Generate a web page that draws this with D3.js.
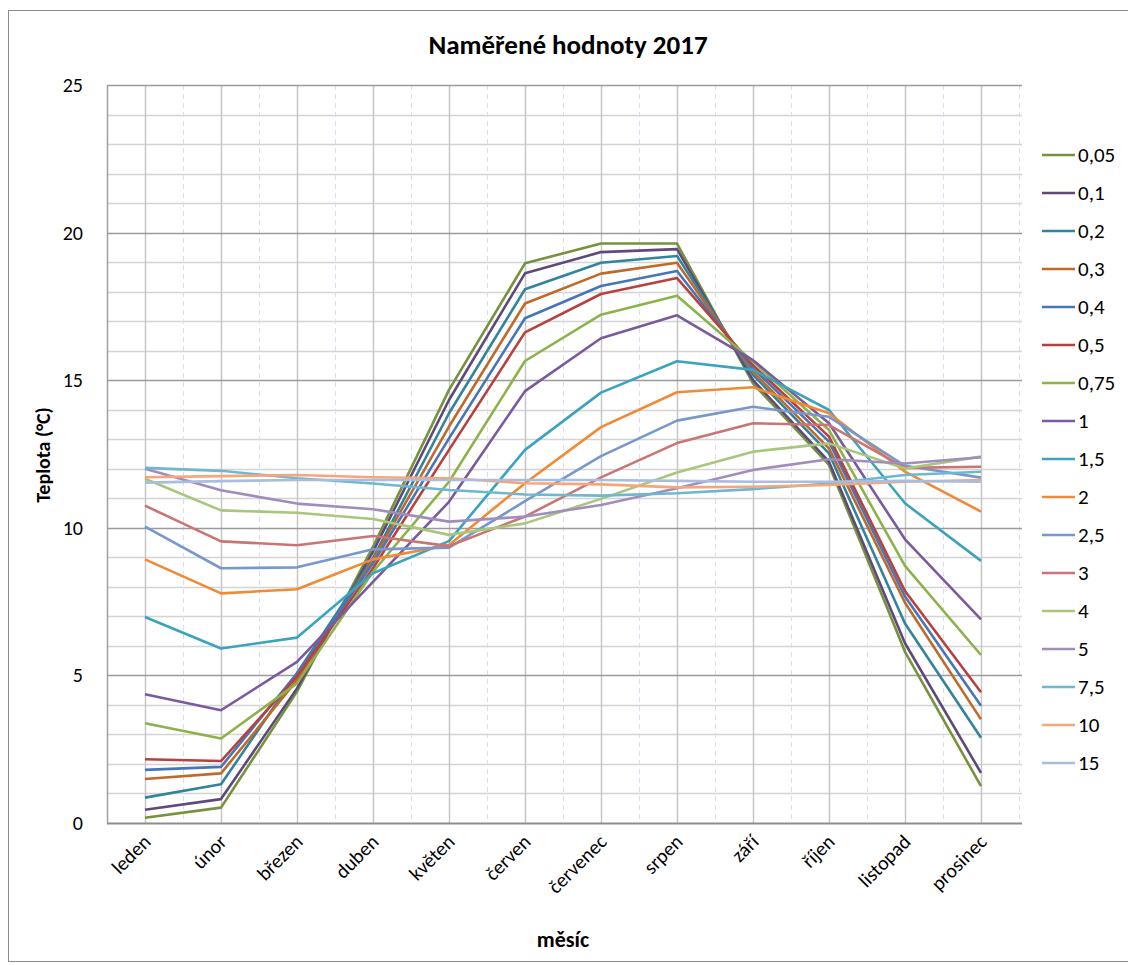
<!DOCTYPE html>
<html><head><meta charset="utf-8">
<script src="https://cdn.jsdelivr.net/npm/d3@7/dist/d3.min.js"></script>
<style>body{margin:0;background:#fff}svg{display:block}text{font-family:Carlito,Lato,"Noto Sans",sans-serif}</style>
</head><body>
<svg id="c" width="1128" height="965"></svg>
<script>
const months = ["leden","únor","březen","duben","květen","červen","červenec","srpen","září","říjen","listopad","prosinec"];
const seriesNames = ["0,05","0,1","0,2","0,3","0,4","0,5","0,75","1","1,5","2","2,5","3","4","5","7,5","10","15"];
const seriesColors = ["#76923C","#5F497A","#31849B","#C0692A","#4676B8","#B8413D","#8DB24A","#7A5A9E","#3BA3BE","#F08A35","#7898CC","#C87573","#A8C67C","#A08DBE","#6FB7D0","#F7A57A","#A9BDDD"];
const s005 = [0.18,0.52,4.45,9.36,14.67,18.96,19.63,19.63,14.89,12.13,5.80,1.25];
const s01  = [0.45,0.81,4.56,9.19,14.33,18.62,19.34,19.44,15.00,12.24,6.09,1.70];
const s02  = [0.86,1.31,5.07,8.97,13.88,18.08,18.98,19.21,15.18,12.52,6.76,2.89];
const s03  = [1.49,1.68,4.84,8.91,13.43,17.60,18.61,18.98,15.29,12.69,7.46,3.51];
const s04  = [1.80,1.90,5.07,8.80,13.03,17.10,18.19,18.70,15.40,12.92,7.67,3.97];
const s05  = [2.16,2.10,4.96,8.63,12.64,16.62,17.92,18.46,15.51,13.09,7.86,4.43];
const s075 = [3.38,2.86,4.73,8.51,11.56,15.65,17.22,17.86,15.63,13.31,8.71,5.69];
const s1   = [4.36,3.82,5.46,8.17,10.88,14.63,16.42,17.20,15.68,13.54,9.61,6.90];
const s15  = [6.98,5.91,6.28,8.46,9.55,12.64,14.58,15.64,15.35,13.99,10.83,8.88];
const s2   = [8.93,7.78,7.92,8.93,9.42,11.51,13.41,14.59,14.76,13.88,11.90,10.55];
const s25  = [10.04,8.63,8.66,9.27,9.33,10.90,12.43,13.63,14.10,13.76,12.10,11.70];
const s3   = [10.75,9.54,9.41,9.72,9.38,10.38,11.71,12.87,13.54,13.48,12.03,12.07];
const s4   = [11.66,10.59,10.51,10.30,9.76,10.15,10.98,11.87,12.58,12.86,12.01,12.41];
const s5   = [12.00,11.27,10.82,10.63,10.21,10.38,10.77,11.34,11.96,12.32,12.18,12.39];
const s75  = [12.03,11.93,11.68,11.50,11.28,11.13,11.09,11.17,11.31,11.50,11.79,11.90];
const s10  = [11.71,11.75,11.79,11.71,11.68,11.51,11.47,11.37,11.39,11.45,11.56,11.62];
const s150 = [11.53,11.58,11.62,11.62,11.62,11.62,11.62,11.59,11.56,11.56,11.59,11.56];
const seriesValues = [s005,s01,s02,s03,s04,s05,s075,s1,s15,s2,s25,s3,s4,s5,s75,s10,s150];
const yTicks = [0,5,10,15,20,25];
const title = "Naměřené hodnoty 2017";
const yTitle = "Teplota (°C)";
const xTitle = "měsíc";

const svg = d3.select("#c");
const L = 107, R = 1019, T = 85, B = 823;
const x = d3.scaleBand().domain(months).range([L, R]).padding(0);
const cx = m => x(m) + x.bandwidth()/2;
const y = d3.scaleLinear().domain([0,25]).range([B, T]);

// chart border
svg.append("rect").attr("x",8.5).attr("y",10.5).attr("width",1140).attr("height",951)
  .attr("fill","none").attr("stroke","#8c8c8c").attr("stroke-width",1);

const g = svg.append("g");
g.selectAll("line.hmin").data(d3.range(1,25).filter(v=>v%5!==0)).join("line")
  .attr("x1",L).attr("x2",R+3).attr("y1",d=>Math.round(y(d))+0.5).attr("y2",d=>Math.round(y(d))+0.5)
  .attr("stroke","#d4d4d4").attr("stroke-width",1.5);
g.selectAll("line.vb").data(months).join("line")
  .attr("x1",d=>Math.round(x(d)+x.bandwidth())+0.5).attr("x2",d=>Math.round(x(d)+x.bandwidth())+0.5)
  .attr("y1",T).attr("y2",B).attr("stroke","#dcdcf0").attr("stroke-width",1).attr("stroke-dasharray","5,4");
g.selectAll("line.vc").data(months).join("line")
  .attr("x1",d=>Math.round(cx(d))+0.5).attr("x2",d=>Math.round(cx(d))+0.5)
  .attr("y1",T).attr("y2",B).attr("stroke","#c6c6c6").attr("stroke-width",1.5);
g.selectAll("line.hmaj").data(yTicks.filter(v=>v>0)).join("line")
  .attr("x1",L).attr("x2",R+3).attr("y1",d=>Math.round(y(d))+0.5).attr("y2",d=>Math.round(y(d))+0.5)
  .attr("stroke","#9a9a9a").attr("stroke-width",1.5);
svg.append("line").attr("x1",L+0.5).attr("x2",L+0.5).attr("y1",T).attr("y2",B).attr("stroke","#a0a0a0").attr("stroke-width",1.5);
svg.append("line").attr("x1",L).attr("x2",R+3).attr("y1",B+0.5).attr("y2",B+0.5).attr("stroke","#8c8c8c").attr("stroke-width",2);

// y axis labels
const yAxis = d3.axisLeft(y).tickValues(yTicks).tickSize(0).tickPadding(0);
const ya = svg.append("g").attr("transform",`translate(${L-24},0)`).call(yAxis);
ya.select(".domain").remove();
ya.selectAll("text").attr("font-size",20).attr("fill","#000").attr("text-anchor","end").attr("dy","0.32em")
  .style("font-family","Carlito,Lato,sans-serif");

// x axis labels rotated
const xa = svg.append("g");
xa.selectAll("text").data(months).join("text")
  .attr("transform",d=>`translate(${cx(d)+7},${B+20}) rotate(-45)`)
  .attr("text-anchor","end").attr("font-size",20).attr("fill","#000").text(d=>d);

// series lines
const line = d3.line().x((d,i)=>cx(months[i])).y(d=>y(d));
const lg = svg.append("g");
seriesValues.forEach((vals,i)=>{
  lg.append("path").datum(vals).attr("d",line).attr("fill","none")
    .attr("stroke",seriesColors[i]).attr("stroke-width",2.6).attr("stroke-linejoin","round");
});

// title
svg.append("text").attr("x",568).attr("y",54).attr("text-anchor","middle")
  .attr("font-size",27).attr("font-weight","bold").text(title);
// axis titles
svg.append("text").attr("transform","translate(50,455) rotate(-90)").attr("text-anchor","middle")
  .attr("font-size",20).attr("font-weight","bold").text(yTitle);
svg.append("text").attr("x",563).attr("y",947).attr("text-anchor","middle")
  .attr("font-size",22).attr("font-weight","bold").text(xTitle);

// legend
const leg = svg.append("g");
const ly = d3.scalePoint().domain(seriesNames).range([155,763]);
seriesNames.forEach((n,i)=>{
  leg.append("line").attr("x1",1042).attr("x2",1075).attr("y1",ly(n)).attr("y2",ly(n))
    .attr("stroke",seriesColors[i]).attr("stroke-width",2.6);
  leg.append("text").attr("x",1078).attr("y",ly(n)).attr("dy","0.35em").attr("font-size",21).text(n);
});
</script>
</body></html>
